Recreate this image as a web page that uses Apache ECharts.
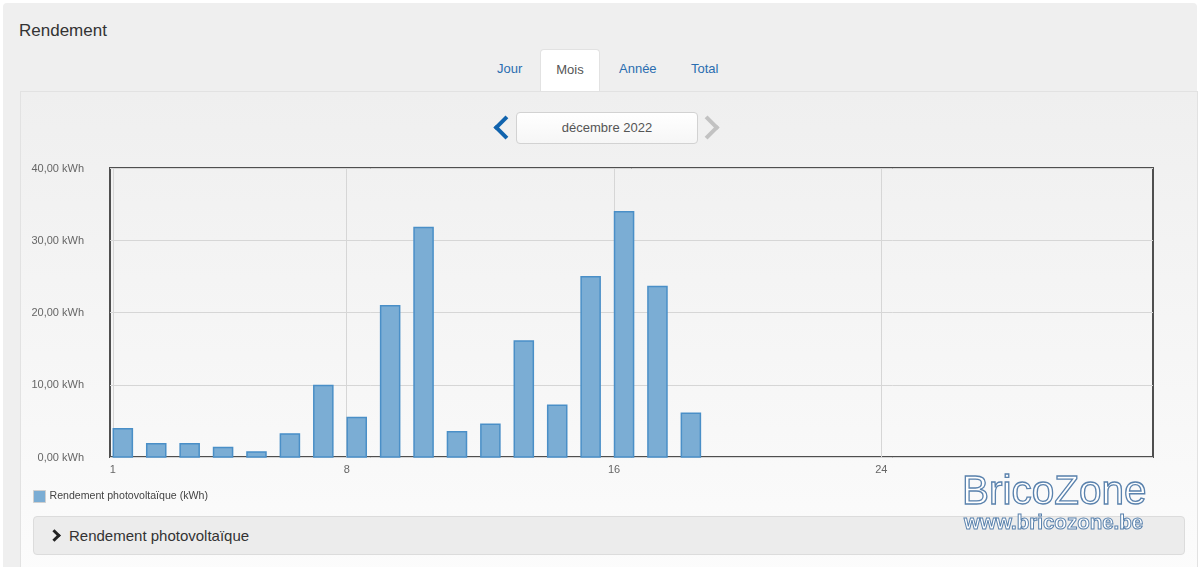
<!DOCTYPE html>
<html>
<head>
<meta charset="utf-8">
<script src="https://cdn.jsdelivr.net/npm/echarts@6/dist/echarts.min.js"></script>
<style>
  html, body { margin: 0; padding: 0; width: 1200px; height: 567px; overflow: hidden; background: #fff;
    font-family: "Liberation Sans", Arial, sans-serif; }
  .outer { position: absolute; left: 3px; top: 3px; width: 1194px; height: 580px; background: #efefef; border-radius: 4px; }
  .title { position: absolute; left: 19px; top: 21px; font-size: 17px; color: #333; }
  .tab { position: absolute; top: 61px; font-size: 13px; color: #2a6db0; }
  .tab-on { position: absolute; left: 540px; top: 49px; width: 60px; height: 43px; background: #fff;
    border: 1px solid #e2e2e2; border-bottom: none; border-radius: 4px 4px 0 0; box-sizing: border-box;
    font-size: 13px; color: #555; text-align: center; line-height: 40px; }
  .inner { position: absolute; left: 20px; top: 91px; width: 1178px; height: 490px; border: 1px solid #e2e2e2;
    box-sizing: border-box; background: linear-gradient(#efefef, #fcfcfc); }
  .datebox { position: absolute; left: 516px; top: 112px; width: 182px; height: 32px; box-sizing: border-box;
    border: 1px solid #d2d2d2; border-radius: 4px; background: linear-gradient(#fff, #f6f6f6);
    font-size: 13px; color: #555; text-align: center; line-height: 30px; }
  .chev { position: absolute; width: 13px; height: 13px; border-left: 4px solid; border-bottom: 4px solid; }
  .chev.prev { left: 497px; top: 119px; transform: rotate(45deg); border-color: #1063ad; }
  .chev.next { left: 699px; top: 119px; transform: rotate(-135deg); border-color: #c2c2c2; }
  #chart { position: absolute; left: 0; top: 0; width: 1200px; height: 567px; }
  .panel { position: absolute; left: 33px; top: 516px; width: 1152px; height: 39px; box-sizing: border-box;
    background: #ececec; border: 1px solid #dcdcdc; border-radius: 4px; }
  .panel span { position: absolute; left: 35px; top: 10px; font-size: 15px; color: #333; }
  .panel .arrow { position: absolute; left: 16px; top: 14px; width: 6px; height: 6px; border-right: 3px solid #222;
    border-top: 3px solid #222; transform: rotate(45deg); }
  .wm1 { position: absolute; left: 962px; top: 467px; font-size: 40.5px; color: #fff; -webkit-text-stroke: 1.3px #5a82ad; }
  .wm2 { position: absolute; left: 964px; top: 510px; font-size: 20.5px; font-weight: bold; color: #fff; -webkit-text-stroke: 1px #5a82ad; }
</style>
</head>
<body>
<div class="outer"></div>
<div class="title">Rendement</div>
<div class="tab" style="left:497px">Jour</div>
<div class="tab-on">Mois</div>
<div class="tab" style="left:619px">Année</div>
<div class="tab" style="left:691px">Total</div>
<div class="inner"></div>
<div class="chev prev"></div>
<div class="datebox">décembre 2022</div>
<div class="chev next"></div>
<div class="panel"><div class="arrow"></div><span>Rendement photovoltaïque</span></div>
<div id="chart"></div>
<div class="wm1">BricoZone</div>
<div class="wm2">www.bricozone.be</div>
<script>
  // jours de décembre 2022 et rendement journalier (kWh)
  var days = [1, 2, 3, 4, 5, 6, 7, 8, 9, 10, 11, 12, 13, 14, 15, 16, 17, 18]
  var yields = [3.9, 1.85, 1.85, 1.3, 0.7, 3.2, 9.9, 5.45, 20.95, 31.75, 3.5, 4.55, 16.05, 7.15, 24.95, 33.95, 23.6, 6.05]
  var dayTicks = [1, 8, 16, 24]
  var seriesName = 'Rendement photovoltaïque (kWh)'

  var FONT = '"Liberation Sans", Arial, sans-serif'
  var barSpan = 0.57 // largeur d'une colonne, en jours

  var myChart = echarts.init(document.getElementById('chart'))
  myChart.setOption({
    backgroundColor: 'transparent',
    animation: false,
    legend: {
      left: 28,
      top: 485,
      itemWidth: 12,
      itemHeight: 12,
      itemGap: 4,
      icon: 'rect',
      itemStyle: { borderColor: '#cfcfcf', borderWidth: 1 },
      textStyle: { fontFamily: FONT, fontSize: 10.6, color: '#444', padding: [0, 0, 0, -1] },
      data: [seriesName]
    },
    grid: {
      left: 110,
      top: 168,
      width: 1043,
      height: 289,
      show: true,
      borderColor: '#4f4f4f',
      borderWidth: 2,
      backgroundColor: 'transparent'
    },
    xAxis: {
      type: 'value',
      min: 0.916,
      max: 32.13,
      axisLine: { show: false },
      axisTick: { show: false, customValues: dayTicks },
      axisLabel: {
        customValues: dayTicks,
        fontFamily: FONT,
        fontSize: 11,
        color: '#666',
        margin: 7
      },
      splitLine: { show: true, lineStyle: { color: '#d6d6d6', width: 1 } }
    },
    yAxis: {
      type: 'value',
      min: 0,
      max: 40,
      interval: 10,
      axisLine: { show: false },
      axisTick: { show: false },
      axisLabel: {
        fontFamily: FONT,
        fontSize: 11,
        color: '#666',
        margin: 26,
        verticalAlign: 'top',
        padding: [-5, 0, 0, 0],
        formatter: function (v) {
          return v.toFixed(2).replace('.', ',') + ' kWh'
        }
      },
      splitLine: { lineStyle: { color: '#d6d6d6', width: 1 } }
    },
    series: [{
      name: seriesName,
      type: 'custom',
      itemStyle: { color: '#7badd4' },
      encode: { x: 0, y: 1 },
      data: days.map(function (d, i) { return [d, yields[i]] }),
      renderItem: function (params, api) {
        var d = api.value(0)
        var v = api.value(1)
        var base = api.coord([d, 0])
        var top = api.coord([d, v])
        var w = api.size([barSpan, 0])[0]
        return {
          type: 'rect',
          shape: { x: base[0] + 0.5, y: top[1], width: w, height: base[1] - top[1] },
          style: { fill: '#7badd4', stroke: '#4a8fc7', lineWidth: 1.5 }
        }
      }
    }]
  })
</script>
</body>
</html>
